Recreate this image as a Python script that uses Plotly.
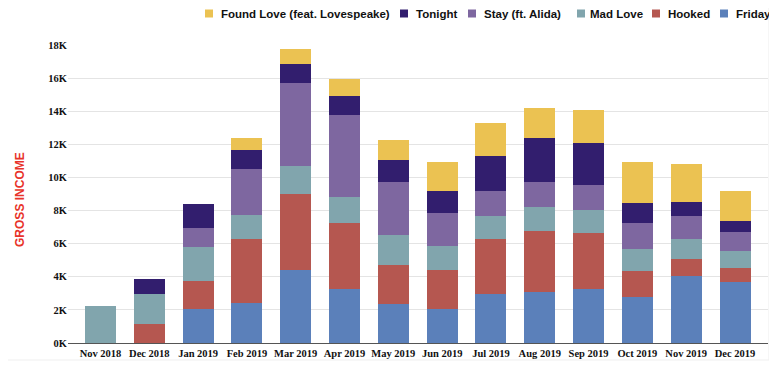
import plotly.graph_objects as go

months = ["Nov 2018", "Dec 2018", "Jan 2019", "Feb 2019", "Mar 2019", "Apr 2019", "May 2019",
          "Jun 2019", "Jul 2019", "Aug 2019", "Sep 2019", "Oct 2019", "Nov 2019", "Dec 2019"]

friday     = [0,    0,    2050, 2420, 4410, 3260, 2360, 2050, 2980, 3100, 3260, 2780, 4070, 3660]
hooked     = [0,    1150, 1690, 3840, 4610, 3970, 2350, 2360, 3280, 3690, 3400, 1570, 1020, 870]
mad_love   = [2230, 1810, 2040, 1470, 1650, 1610, 1790, 1430, 1410, 1410, 1390, 1350, 1210, 1010]
stay       = [0,    0,    1180, 2800, 5030, 4950, 3200, 2030, 1510, 1550, 1470, 1530, 1390, 1170]
tonight    = [0,    920,  1430, 1150, 1150, 1150, 1350, 1310, 2090, 2610, 2540, 1250, 850,  640]
found_love = [0,    0,    0,    680,  900,  990,  1210, 1750, 2000, 1830, 2030, 2430, 2290, 1830]

tick_vals = [0, 2000, 4000, 6000, 8000, 10000, 12000, 14000, 16000, 18000]
tick_text = ["0K", "2K", "4K", "6K", "8K", "10K", "12K", "14K", "16K", "18K"]

series = [
    ("Friday", friday, "#5B80BA"),
    ("Hooked", hooked, "#B55750"),
    ("Mad Love", mad_love, "#81A5AD"),
    ("Stay (ft. Alida)", stay, "#7E67A0"),
    ("Tonight", tonight, "#321E6E"),
    ("Found Love (feat. Lovespeake)", found_love, "#EBC252"),
]

# legend layout (pixel offsets from the plot's top-left corner): square left, text left
legend_pos = {
    "Found Love (feat. Lovespeake)": (137, 151),
    "Tonight": (332, 346),
    "Stay (ft. Alida)": (400, 414),
    "Mad Love": (509, 520),
    "Hooked": (584, 598),
    "Friday": (652, 666),
}

fig = go.Figure()
for name, vals, color in series:
    fig.add_trace(go.Bar(
        x=months, y=vals, name=name,
        marker=dict(color=color, line=dict(width=0)),
        width=0.635, showlegend=False,
    ))
    sq, tx = legend_pos[name]
    fig.add_shape(
        type="rect", xref="paper", yref="paper",
        xsizemode="pixel", ysizemode="pixel", xanchor=0, yanchor=1,
        x0=sq, x1=sq + 8, y0=27.5, y1=35.5,
        fillcolor=color, line=dict(width=0),
    )
    fig.add_annotation(
        text=name, xref="paper", yref="paper", x=0, y=1,
        xanchor="left", yanchor="middle", xshift=tx, yshift=31.5,
        showarrow=False,
        font=dict(family="Liberation Sans", size=11.5, color="#111111", weight="bold"),
    )

# faint outer frame
fig.add_shape(
    type="rect", xref="paper", yref="paper",
    x0=-0.0943, x1=1.0014, y0=-0.057, y1=1.1477,
    line=dict(color="#EFEFEF", width=1), fillcolor="rgba(0,0,0,0)", layer="below",
)

fig.update_layout(
    barmode="stack",
    width=769, height=361,
    margin=dict(l=60, r=9, t=37, b=26),
    paper_bgcolor="white", plot_bgcolor="white",
    showlegend=False,
    xaxis=dict(
        range=[-0.666, 13.676],
        showgrid=False,
        showline=True, linecolor="#555555", linewidth=1,
        ticks="",
        tickfont=dict(family="Liberation Serif", size=10.5, color="#111111", weight="bold"),
    ),
    yaxis=dict(
        range=[0, 18000],
        tickvals=tick_vals, ticktext=tick_text,
        showgrid=True, gridcolor="#E4E4E4", gridwidth=1,
        zeroline=False,
        ticks="", ticklen=0,
        tickfont=dict(family="Liberation Serif", size=10.5, color="#111111", weight="bold"),
    ),
)

fig.add_annotation(
    text="GROSS INCOME", textangle=-90,
    xref="paper", yref="paper", x=0, y=0.48,
    xanchor="center", yanchor="middle", xshift=-48,
    showarrow=False,
    font=dict(family="Liberation Sans", size=12, color="#E8332A", weight="bold"),
)

fig.write_html("out.html")
